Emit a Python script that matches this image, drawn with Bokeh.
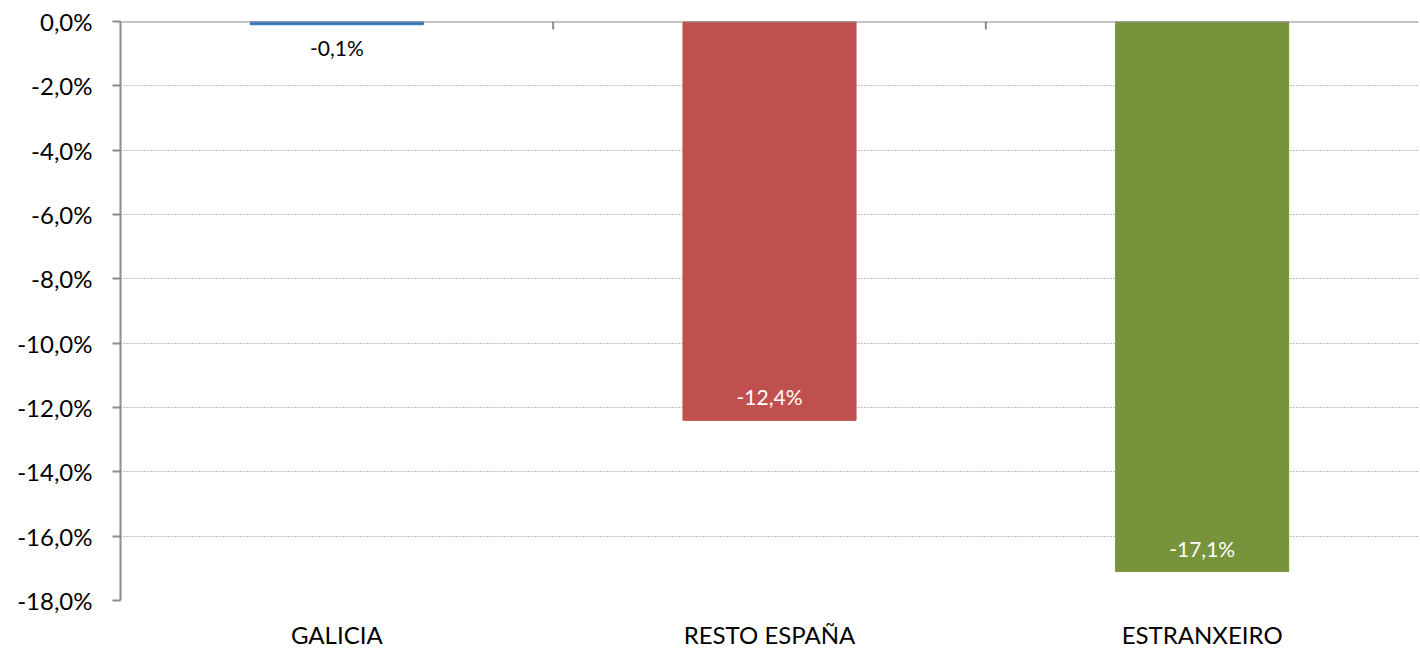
import math
from bokeh.plotting import figure
from bokeh.models import ColumnDataSource, FixedTicker, LinearAxis, Range1d, Span
from bokeh.core.properties import value
from bokeh.embed import file_html
from bokeh.resources import INLINE

categories = ["GALICIA", "RESTO ESPAÑA", "ESTRANXEIRO"]
values = [-0.1, -12.4, -17.1]
bar_colors = ["#2F75C0", "#C0504D", "#77933C"]
label_colors = ["#000000", "#FFFFFF", "#FFFFFF"]
label_offsets = [23, -24, -23]
y_ticks = [-18, -16, -14, -12, -10, -8, -6, -4, -2, 0]

FONT = "Lato"
AXIS_GRAY = "#8C8C8C"

def fmt(v, d=1):
    return ("%.*f" % (d, v)).replace(".", ",") + "%"

xpos = [i + 0.5 for i in range(len(categories))]
src = ColumnDataSource(dict(
    x=xpos, top=[0] * len(values), bottom=values, color=bar_colors,
    label=[fmt(v) for v in values], lcolor=label_colors, yoff=label_offsets,
))
separators = list(range(1, len(categories)))

p = figure(width=1420, height=651, output_backend="svg", toolbar_location=None,
           x_range=Range1d(0, len(categories)), y_range=Range1d(min(y_ticks), max(y_ticks)),
           x_axis_location=None, y_axis_location=None,
           min_border_left=120, min_border_right=2, min_border_top=21, min_border_bottom=49)
p.outline_line_color = None
p.background_fill_color = "white"

p.ygrid.ticker = FixedTicker(ticks=[t for t in y_ticks if t != 0])
p.ygrid.grid_line_color = "#808080"
p.ygrid.grid_line_dash = "1 2"
p.ygrid.grid_line_width = 1
p.xgrid.visible = False

p.vbar(x="x", top="top", bottom="bottom", width=0.40, color="color", source=src)
p.text(x="x", y="bottom", text="label", text_color="lcolor", y_offset="yoff",
       text_align="center", text_baseline="middle", text_font=value(FONT),
       text_font_size="21px", source=src)

# zero line along the top with separators between the categories
p.add_layout(Span(location=0, dimension="width", line_color=AXIS_GRAY, line_width=2))
p.scatter(x=separators, y=[0] * len(separators), marker="dash", angle=math.pi / 2,
          size=16, line_color=AXIS_GRAY, line_width=2)

# left axis
ya = LinearAxis(ticker=FixedTicker(ticks=y_ticks))
ya.major_label_overrides = {t: fmt(t) for t in y_ticks}
ya.axis_line_color = AXIS_GRAY
ya.axis_line_width = 2
ya.major_tick_line_color = AXIS_GRAY
ya.major_tick_line_width = 2
ya.major_tick_in = 0
ya.major_tick_out = 8
ya.minor_tick_line_color = None
ya.major_label_standoff = 20
ya.major_label_text_font = FONT
ya.major_label_text_font_size = "24px"
ya.major_label_text_color = "#000000"
p.add_layout(ya, "left")

# bottom category labels
xa = LinearAxis(ticker=FixedTicker(ticks=xpos))
xa.major_label_overrides = {x: c for x, c in zip(xpos, categories)}
xa.axis_line_color = None
xa.major_tick_line_color = None
xa.minor_tick_line_color = None
xa.major_tick_out = 0
xa.major_tick_in = 0
xa.major_label_standoff = 19
xa.major_label_text_font = FONT
xa.major_label_text_font_size = "24px"
xa.major_label_text_color = "#000000"
p.add_layout(xa, "below")

open("out.html", "w").write(file_html(p, INLINE))
